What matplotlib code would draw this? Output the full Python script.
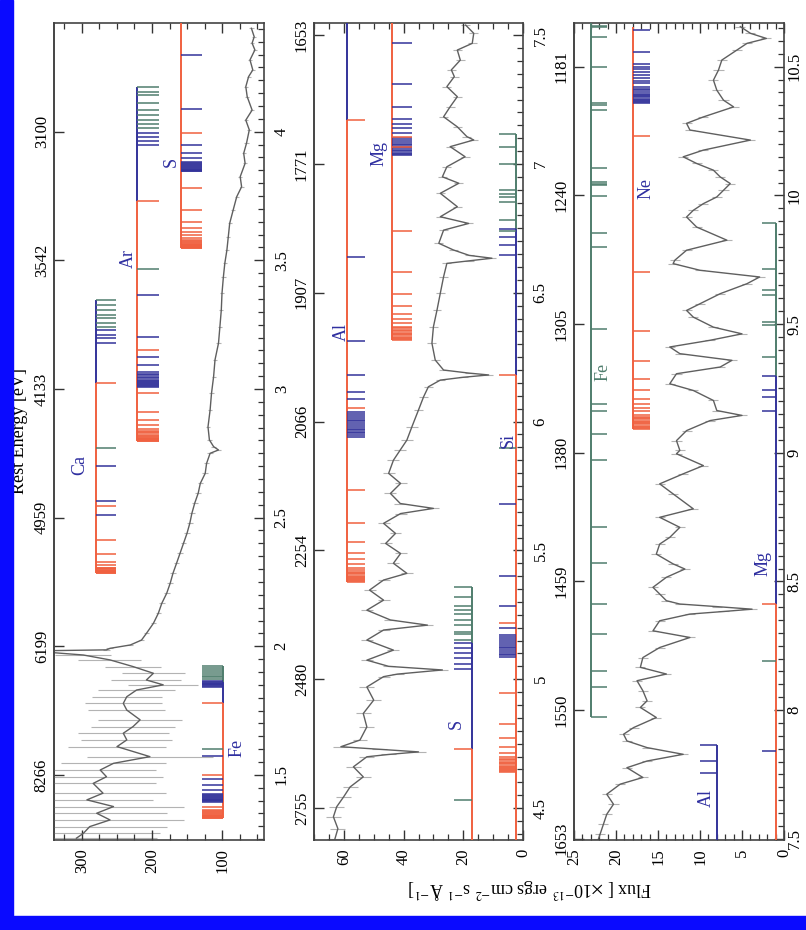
import matplotlib.pyplot as plt
from matplotlib.patches import Rectangle
from matplotlib.ticker import MultipleLocator, NullLocator

plt.rcParams['font.family'] = ['Liberation Serif', 'DejaVu Serif']
plt.rcParams['mathtext.fontset'] = 'stix'

# ---- spectrum, panel a (short wavelengths) ----
wl_a = [4.402, 4.369, 4.344, 4.318, 4.279, 4.240, 4.214, 4.175, 4.136, 4.084,
        4.045, 4.007, 3.955, 3.916, 3.877, 3.825, 3.786, 3.747, 3.696, 3.644,
        3.592, 3.540, 3.488, 3.436, 3.372, 3.307, 3.242, 3.178, 3.113, 3.048,
        2.983, 2.918, 2.853, 2.802, 2.776, 2.763, 2.750, 2.711, 2.672, 2.633,
        2.595, 2.556, 2.517, 2.478, 2.439, 2.400, 2.361, 2.322, 2.284, 2.245,
        2.206, 2.167, 2.128, 2.089, 2.050, 2.024, 2.005, 1.992, 1.986, 1.983,
        1.976, 1.966, 1.947, 1.921, 1.895, 1.869, 1.850, 1.830, 1.804, 1.778,
        1.752, 1.714, 1.688, 1.662, 1.636, 1.610, 1.571, 1.545, 1.519, 1.493,
        1.467, 1.429, 1.403, 1.377, 1.351, 1.325, 1.299, 1.273, 1.254]
flux_a = [58, 54, 57, 53, 60, 56, 62, 66, 64, 57,
          66, 61, 65, 69, 67, 74, 72, 79, 84, 89,
          91, 93, 96, 98, 100, 101, 103, 105, 110, 112,
          115, 117, 120, 118, 112, 105, 117, 122, 124, 131,
          134, 139, 143, 146, 150, 155, 160, 165, 170, 174,
          179, 186, 191, 198, 208, 215, 231, 260, 265, 345,
          345, 298, 260, 227, 198, 208, 184, 222, 236, 241,
          236, 217, 227, 241, 236, 250, 203, 255, 274, 265,
          284, 270, 293, 255, 279, 260, 289, 298, 308]
err_a = [3] * 33 + [4] * 24 + [5, 5, 0, 0,
         40, 45, 40, 45, 50, 50, 55, 50, 55, 55,
         60, 60, 65, 65, 70, 90, 75, 80, 80, 90,
         90, 95, 100, 100, 105, 110, 110, 115]

# ---- spectrum, panel b ----
wl_b = [7.539, 7.507, 7.468, 7.442, 7.403, 7.365, 7.339, 7.300, 7.261, 7.222,
        7.183, 7.144, 7.106, 7.093, 7.067, 7.028, 6.989, 6.950, 6.925, 6.886,
        6.834, 6.795, 6.769, 6.743, 6.692, 6.666, 6.645, 6.634, 6.624, 6.614,
        6.562, 6.498, 6.433, 6.368, 6.304, 6.239, 6.200, 6.188, 6.181, 6.172,
        6.161, 6.135, 6.096, 6.045, 5.980, 5.928, 5.890, 5.850, 5.799, 5.760,
        5.721, 5.682, 5.663, 5.643, 5.605, 5.566, 5.527, 5.488, 5.450, 5.411,
        5.385, 5.346, 5.307, 5.268, 5.230, 5.210, 5.191, 5.152, 5.113, 5.074,
        5.050, 5.036, 5.020, 5.010, 4.970, 4.919, 4.867, 4.815, 4.764, 4.738,
        4.728, 4.718, 4.708, 4.699, 4.660, 4.621, 4.582, 4.543, 4.505, 4.466,
        4.420, 4.380]
flux_b = [19.2, 16.5, 17.0, 22.0, 21.0, 24.0, 23.0, 25.5, 22.0, 24.4,
          26.6, 22.0, 18.8, 16.5, 24.4, 19.4, 25.5, 27.0, 21.5, 27.7,
          22.0, 27.7, 18.2, 26.6, 28.2, 23.3, 18.0, 10.4, 18.0, 25.5,
          26.6, 27.7, 28.8, 30.0, 30.5, 29.4, 26.6, 18.0, 11.5, 20.0,
          27.7, 31.7, 33.3, 35.0, 37.2, 38.9, 41.1, 43.4, 45.0, 41.0,
          44.4, 41.1, 30.0, 41.0, 46.7, 42.7, 46.0, 41.0, 43.4, 38.9,
          46.7, 51.4, 46.7, 52.3, 44.4, 32.0, 46.7, 52.3, 43.4, 52.3,
          45.0, 27.0, 42.0, 46.7, 52.3, 50.0, 53.5, 52.3, 54.6, 61.0,
          48.0, 35.0, 45.0, 52.3, 56.8, 53.5, 57.9, 60.1, 62.4, 63.5,
          62.0, 63.0]
err_b = [1.5] * 44 + [2.0] * 30 + [2.5] * 18

# ---- spectrum, panel c (long wavelengths) ----
wl_c = [10.656, 10.630, 10.610, 10.591, 10.565, 10.526, 10.487, 10.448, 10.409, 10.370,
        10.344, 10.305, 10.280, 10.254, 10.215, 10.176, 10.150, 10.124, 10.098, 10.072,
        10.046, 10.020, 9.994, 9.968, 9.942, 9.916, 9.877, 9.826, 9.787, 9.748,
        9.735, 9.709, 9.683, 9.657, 9.618, 9.579, 9.553, 9.527, 9.488, 9.462,
        9.437, 9.411, 9.385, 9.359, 9.333, 9.307, 9.268, 9.242, 9.203, 9.164,
        9.145, 9.125, 9.086, 9.047, 9.009, 8.996, 8.950, 8.918, 8.879, 8.840,
        8.782, 8.749, 8.710, 8.671, 8.645, 8.606, 8.568, 8.548, 8.516, 8.477,
        8.451, 8.425, 8.412, 8.402, 8.392, 8.383, 8.373, 8.347, 8.308, 8.282,
        8.243, 8.204, 8.166, 8.140, 8.114, 8.075, 8.036, 8.010, 7.971, 7.932,
        7.906, 7.880, 7.854, 7.828, 7.802, 7.776, 7.738, 7.712, 7.673, 7.634,
        7.595, 7.556, 7.517, 7.498]
flux_c = [5.2, 4.0, 2.1, 4.4, 5.6, 7.4, 7.8, 8.4, 8.0, 7.2,
          6.0, 9.6, 11.6, 11.2, 4.0, 9.6, 12.0, 10.4, 8.4, 7.6,
          6.4, 7.2, 8.0, 9.6, 10.8, 11.6, 10.4, 6.8, 11.6, 13.0,
          13.2, 10.0, 2.9, 4.4, 7.6, 10.0, 11.6, 10.8, 8.4, 5.0,
          8.8, 13.6, 12.4, 6.2, 7.6, 12.8, 13.6, 10.8, 8.4, 8.0,
          5.0, 8.8, 11.6, 12.8, 12.4, 12.8, 9.6, 12.0, 14.8, 13.2,
          10.8, 14.8, 12.4, 13.6, 14.8, 15.2, 13.2, 11.8, 14.0, 15.6,
          14.8, 14.0, 12.4, 8.0, 3.8, 7.2, 11.2, 14.8, 15.6, 11.2,
          14.8, 16.8, 17.1, 14.0, 17.5, 16.8, 16.3, 17.1, 15.2, 17.9,
          19.1, 18.7, 16.3, 12.0, 16.3, 18.7, 16.8, 19.5, 21.1, 20.3,
          21.1, 21.5, 21.9, 22.1]
err_c = [0.6] * 104

# ---- line ladders (wavelengths, A) ----
ca_green = [3.346, 3.327, 3.307, 3.288, 3.275, 3.255, 3.242, 2.769]
ca_blue = [3.229, 3.210, 3.197, 3.180, 2.702, 2.566, 2.509]
ca_red = [3.022, 2.545, 2.413, 2.357, 2.326, 2.316, 2.306, 2.303, 2.300, 2.297,
          2.294, 2.292, 2.290, 2.288, 2.286, 2.284]
ar_green = [4.175, 4.155, 4.143, 4.113, 4.084, 4.065, 4.046, 4.030, 4.013, 3.465]
ar_blue = [3.994, 3.981, 3.965, 3.948, 3.365, 3.201, 3.125, 3.093, 3.067, 3.060,
           3.053, 3.047, 3.041, 3.036, 3.031, 3.027, 3.023, 3.019, 3.015, 3.012, 3.009]
ar_red = [3.731, 3.152, 2.983, 2.911, 2.879, 2.860, 2.845, 2.838, 2.832, 2.827,
          2.822, 2.818, 2.814, 2.810, 2.807, 2.804, 2.801, 2.798, 2.796]
s_blue_a = [4.298, 4.087, 3.948, 3.916, 3.897, 3.883, 3.878, 3.873, 3.869, 3.865,
            3.861, 3.858, 3.855, 3.852, 3.850, 3.848, 3.846]
s_red_a = [3.994, 3.782, 3.696, 3.650, 3.624, 3.611, 3.598, 3.586, 3.581, 3.576,
           3.572, 3.568, 3.564, 3.561, 3.558, 3.555, 3.553, 3.551, 3.549, 3.547]
fe_green_a = [1.923, 1.915, 1.908, 1.900, 1.893, 1.886, 1.879, 1.872, 1.602]
fe_blue_a = [1.866, 1.862, 1.858, 1.855, 1.852, 1.849, 1.846, 1.843, 1.574, 1.483,
             1.461, 1.442, 1.426, 1.422, 1.418, 1.414, 1.410, 1.407, 1.404, 1.401,
             1.398, 1.396]
fe_red_a = [1.778, 1.500, 1.377, 1.364, 1.360, 1.356, 1.352, 1.348, 1.345, 1.342,
            1.339, 1.336, 1.334, 1.332]

al_blue_b = [6.637, 6.313, 6.181, 6.114, 6.086, 6.038, 6.030, 6.022, 6.015, 6.008,
             6.001, 5.994, 5.987, 5.980, 5.973, 5.966, 5.960, 5.954, 5.948, 5.942]
al_red_b = [7.171, 6.053, 5.734, 5.605, 5.533, 5.488, 5.465, 5.447, 5.430, 5.424,
            5.418, 5.412, 5.407, 5.402, 5.398, 5.394, 5.390, 5.386, 5.382, 5.378]
mg_blue_b = [7.468, 7.310, 7.222, 7.173, 7.155, 7.140, 7.121, 7.099, 7.092, 7.085,
             7.078, 7.072, 7.066, 7.060, 7.054, 7.049, 7.044, 7.039, 7.035]
mg_red_b = [7.106, 7.067, 6.741, 6.582, 6.495, 6.449, 6.418, 6.400, 6.381, 6.368,
            6.362, 6.356, 6.350, 6.345, 6.340, 6.335, 6.330, 6.326, 6.322, 6.318]
si_green_b = [7.116, 7.065, 6.999, 6.899, 6.885, 6.870, 6.853, 6.782, 6.739, 5.896]
si_blue_b = [6.747, 6.716, 6.685, 6.646, 5.680, 5.400, 5.285, 5.200, 5.170, 5.162,
             5.155, 5.148, 5.141, 5.134, 5.127, 5.120, 5.113, 5.106, 5.099, 5.093, 5.087]
si_red_b = [6.181, 5.219, 4.945, 4.826, 4.770, 4.738, 4.712, 4.700, 4.690, 4.685,
            4.680, 4.675, 4.670, 4.665, 4.660, 4.656, 4.652, 4.648, 4.644, 4.641]
s_green_b = [5.359, 5.320, 5.285, 5.268, 5.255, 5.230, 5.210, 5.185, 5.175, 5.152, 4.531]
s_blue_b = [5.139, 5.120, 5.100, 5.081, 5.061, 5.040]
s_red_b = [4.728]

fe_green_c = [10.660, 10.655, 10.617, 10.498, 10.360, 10.351, 10.331, 10.108, 10.053,
              10.046, 10.040, 9.997, 9.854, 9.800, 9.482, 9.190, 9.164, 9.073, 8.972,
              8.713, 8.570, 8.412, 8.295, 8.153, 8.088, 7.974]
ne_blue_c = [10.644, 10.558, 10.510, 10.500, 10.490, 10.479, 10.468, 10.455, 10.446,
             10.435, 10.420, 10.414, 10.408, 10.402, 10.396, 10.391, 10.386, 10.381,
             10.376, 10.371, 10.367, 10.363, 10.359]
ne_red_c = [10.230, 9.702, 9.473, 9.356, 9.287, 9.242, 9.210, 9.190, 9.175, 9.162,
            9.145, 9.140, 9.135, 9.130, 9.125, 9.120, 9.115, 9.110, 9.105, 9.100,
            9.096, 9.093]
mg_green_c = [9.893, 9.715, 9.631, 9.612, 9.508, 9.495, 9.372, 8.192]
mg_blue_c = [9.300, 9.242, 9.216, 9.164, 7.841]
mg_red_c = [8.412]
al_blue_c = [7.865, 7.802, 7.757]

# ---- axis ticks ----
wl_ticks_a = [1.5, 2.0, 2.5, 3.0, 3.5, 4.0]
wl_ticks_b = [4.5, 5.0, 5.5, 6.0, 6.5, 7.0, 7.5]
wl_ticks_c = [7.5, 8.0, 8.5, 9.0, 9.5, 10.0, 10.5]
ev_labels_a = ['8266', '6199', '4959', '4133', '3542', '3100']
ev_labels_b = ['2755', '2480', '2254', '2066', '1907', '1771', '1653']
ev_labels_c = ['1653', '1550', '1459', '1380', '1305', '1240', '1181']

RED = '#f0603f'
BLUE = '#33339a'
GREEN = '#4f7d6d'
LABEL_BLUE = '#2f2fa0'


def add_ladder(ax, level, tick, segments, ticks):
    for top, bottom, color in segments:
        ax.vlines(level, bottom, top, color=color, lw=1.4, zorder=3)
    for wls, color in ticks:
        ax.hlines(wls, level, level + tick, color=color, lw=1.1, zorder=3)


def setup_panel(ax, flim, wlim, fmajor, fminor, wl_ticks, ev_labels, rpad=7):
    ax.set_xlim(*flim)
    ax.set_ylim(*wlim)
    ax.set_xticks(fmajor)
    ax.xaxis.set_minor_locator(MultipleLocator(fminor))
    ax.set_yticks(wl_ticks)
    ax.set_yticklabels([f'{w:g}' for w in wl_ticks])
    ax.yaxis.set_minor_locator(MultipleLocator(0.05))
    ax.tick_params(axis='x', which='both', direction='in', top=True, bottom=True,
                   labelrotation=90, labelsize=12, pad=6)
    ax.tick_params(axis='y', which='both', direction='in', left=False, right=True,
                   labelleft=False, labelright=True, labelrotation=90,
                   labelsize=12, pad=rpad)
    ax.tick_params(which='major', length=7, width=1.0, color='#333333')
    ax.tick_params(which='minor', length=4, width=0.9, color='#333333')
    for sp in ax.spines.values():
        sp.set_color('#444444')
        sp.set_linewidth(1.2)
    sec = ax.secondary_yaxis('left')
    sec.set_yticks(wl_ticks, labels=ev_labels)
    sec.yaxis.set_minor_locator(NullLocator())
    sec.tick_params(direction='in', length=7, width=1.0, color='#333333',
                    labelrotation=90, labelsize=12, pad=3)
    sec.spines['left'].set_color('#444444')
    sec.spines['left'].set_linewidth(1.2)
    for t in ax.get_yticklabels() + sec.get_yticklabels():
        t.set_verticalalignment('center')


def add_spectrum(ax, wl, flux, err):
    ax.errorbar(flux, wl, xerr=err, fmt='none', ecolor='#b3b3b3',
                elinewidth=0.8, capsize=0, zorder=1)
    ax.plot(flux, wl, color='#5f5f5f', lw=1.0, zorder=2)


fig = plt.figure(figsize=(8.06, 9.30), dpi=100)
W, H = 806.0, 930.0
bottom, height = 1 - 840 / H, 817 / H
ax_a = fig.add_axes([54 / W, bottom, 210 / W, height])
ax_b = fig.add_axes([314 / W, bottom, 209 / W, height])
ax_c = fig.add_axes([574 / W, bottom, 210 / W, height])

# panel a
add_spectrum(ax_a, wl_a, flux_a, err_a)
add_ladder(ax_a, 158, -29, [(4.5, 3.547, RED)],
           [(s_blue_a, BLUE), (s_red_a, RED)])
add_ladder(ax_a, 221, -31, [(4.175, 3.731, BLUE), (3.731, 2.796, RED)],
           [(ar_green, GREEN), (ar_blue, BLUE), (ar_red, RED)])
add_ladder(ax_a, 280, -29, [(3.346, 3.022, BLUE), (3.022, 2.284, RED)],
           [(ca_green, GREEN), (ca_blue, BLUE), (ca_red, RED)])
add_ladder(ax_a, 99, 29, [(1.923, 1.862, GREEN), (1.862, 1.778, BLUE), (1.778, 1.332, RED)],
           [(fe_green_a, GREEN), (fe_blue_a, BLUE), (fe_red_a, RED)])
for name, f, w in [('Ca', 303, 2.705), ('Ar', 234, 3.508), ('S', 172, 3.883), ('Fe', 79, 1.604)]:
    ax_a.text(f, w, name, rotation=90, ha='center', va='center', fontsize=13, color=LABEL_BLUE)
setup_panel(ax_a, (340, 40), (1.247, 4.4225), [300, 200, 100], 25, wl_ticks_a, ev_labels_a)

# panel b
add_spectrum(ax_b, wl_b, flux_b, err_b)
add_ladder(ax_b, 59, -6.1, [(7.6, 7.171, BLUE), (7.171, 5.378, RED)],
           [(al_blue_b, BLUE), (al_red_b, RED)])
add_ladder(ax_b, 43.9, -6.7, [(7.6, 6.318, RED)],
           [(mg_blue_b, BLUE), (mg_red_b, RED)])
add_ladder(ax_b, 2.2, 6.0, [(7.116, 6.747, GREEN), (6.747, 6.181, BLUE), (6.181, 4.3, RED)],
           [(si_green_b, GREEN), (si_blue_b, BLUE), (si_red_b, RED)])
add_ladder(ax_b, 17.1, 6.1, [(5.359, 5.139, GREEN), (5.139, 4.728, BLUE), (4.728, 4.3, RED)],
           [(s_green_b, GREEN), (s_blue_b, BLUE), (s_red_b, RED)])
for name, f, w in [('Al', 60.7, 6.349), ('Mg', 48.1, 7.041), ('Si', 5.0, 5.928), ('S', 22.3, 4.828)]:
    ax_b.text(f, w, name, rotation=90, ha='center', va='center', fontsize=13, color=LABEL_BLUE)
setup_panel(ax_b, (70, 0), (4.376, 7.547), [60, 40, 20, 0], 5, wl_ticks_b, ev_labels_b)

# panel c
add_spectrum(ax_c, wl_c, flux_c, err_c)
add_ladder(ax_c, 23.0, -1.9, [(10.7, 7.974, GREEN)], [(fe_green_c, GREEN)])
add_ladder(ax_c, 18.0, -2.0, [(10.656, 9.093, RED)],
           [(ne_blue_c, BLUE), (ne_red_c, RED)])
add_ladder(ax_c, 0.9, 1.75, [(9.893, 9.300, GREEN), (9.300, 8.412, BLUE), (8.412, 7.4, RED)],
           [(mg_green_c, GREEN), (mg_blue_c, BLUE), (mg_red_c, RED)])
add_ladder(ax_c, 8.0, 2.0, [(7.865, 7.4, BLUE)], [(al_blue_c, BLUE)])
ax_c.text(21.5, 9.313, 'Fe', rotation=90, ha='center', va='center', fontsize=13, color=GREEN)
for name, f, w in [('Ne', 16.4, 10.027), ('Mg', 2.46, 8.568), ('Al', 9.2, 7.659)]:
    ax_c.text(f, w, name, rotation=90, ha='center', va='center', fontsize=13, color=LABEL_BLUE)
setup_panel(ax_c, (25, 0), (7.495, 10.67), [25, 20, 15, 10, 5, 0], 1, wl_ticks_c, ev_labels_c,
            rpad=2)

fig.text(20 / W, 1 - 431 / H, 'Rest Energy [eV]', rotation=90, ha='center', va='center', fontsize=13)
fig.text(530 / W, 1 - 889 / H,
         r'Flux [ $\times$10$^{-13}$ ergs cm$^{-2}$ s$^{-1}$ Å$^{-1}$]',
         rotation=180, ha='center', va='center', fontsize=13)

# blue slide frame
fig.patches.append(Rectangle((0, 0), 13 / W, 1, transform=fig.transFigure,
                             color='#0a0aff', zorder=10))
fig.patches.append(Rectangle((0, 0), 1, 14 / H, transform=fig.transFigure,
                             color='#0a0aff', zorder=10))

fig.savefig('out.png', dpi=100)
